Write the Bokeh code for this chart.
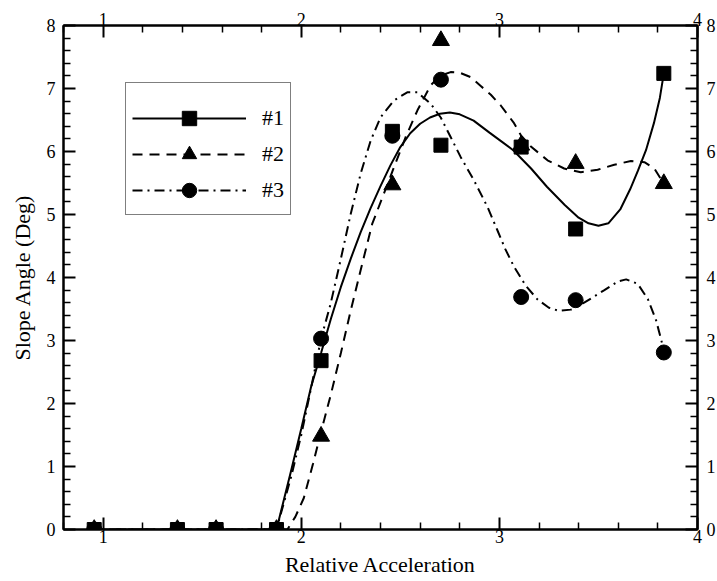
import numpy as np
from bokeh.plotting import figure
from bokeh.models import LinearAxis, FixedTicker, Legend, LegendItem, Range1d
from bokeh.embed import file_html
from bokeh.resources import INLINE

# ---- data ----
accel = [0.955, 1.375, 1.57, 1.875, 2.10, 2.46, 2.705, 3.11, 3.385, 3.83]
slope1 = [0, 0, 0, 0, 2.68, 6.32, 6.10, 6.07, 4.77, 7.24]
slope2 = [0, 0, 0, 0, 1.48, 5.47, 7.76, 6.10, 5.81, 5.49]
slope3 = [0, 0, 0, 0, 3.03, 6.25, 7.14, 3.69, 3.64, 2.81]

# fitted curves
fit1_x = [0.955, 1.875, 1.95, 2.00, 2.05, 2.10, 2.15, 2.20, 2.25, 2.30, 2.35, 2.40,
          2.45, 2.50, 2.55, 2.60, 2.65, 2.70, 2.75, 2.80, 2.87, 2.95, 3.01, 3.07,
          3.16, 3.24, 3.33, 3.40, 3.45, 3.50, 3.55, 3.61, 3.66, 3.70, 3.74, 3.78,
          3.81, 3.83]
fit1_y = [0, 0, 0.95, 1.60, 2.27, 2.80, 3.35, 3.85, 4.30, 4.72, 5.10, 5.45,
          5.78, 6.07, 6.29, 6.44, 6.54, 6.60, 6.62, 6.59, 6.49, 6.30, 6.16, 6.02,
          5.73, 5.44, 5.15, 4.95, 4.86, 4.82, 4.86, 5.08, 5.40, 5.70, 6.02, 6.45,
          6.85, 7.24]

fit2_x = [0.955, 1.875, 1.93, 1.97, 2.013, 2.06, 2.10, 2.15, 2.20, 2.25, 2.30,
          2.358, 2.417, 2.468, 2.527, 2.586, 2.653, 2.70, 2.754, 2.80, 2.855,
          2.906, 2.957, 3.007, 3.074, 3.11, 3.159, 3.243, 3.327, 3.411, 3.496,
          3.58, 3.664, 3.732, 3.782, 3.83]
fit2_y = [0, 0, 0.0, 0.2, 0.50, 1.05, 1.55, 2.15, 2.80, 3.48, 4.12,
          4.85, 5.33, 5.75, 6.23, 6.65, 7.05, 7.20, 7.26, 7.25, 7.18,
          7.04, 6.90, 6.73, 6.45, 6.25, 6.08, 5.86, 5.73, 5.67, 5.71,
          5.79, 5.85, 5.83, 5.73, 5.49]

fit3_x = [0.955, 1.875, 1.95, 2.00, 2.05, 2.10, 2.148, 2.198, 2.249, 2.30, 2.35,
          2.40, 2.468, 2.535, 2.586, 2.653, 2.704, 2.754, 2.805, 2.872, 2.94,
          2.99, 3.03, 3.074, 3.133, 3.193, 3.25, 3.30, 3.361, 3.428, 3.53, 3.60,
          3.64, 3.698, 3.749, 3.791, 3.816, 3.833]
fit3_y = [0, 0, 0.85, 1.50, 2.25, 3.03, 3.58, 4.27, 5.00, 5.65, 6.17,
          6.54, 6.81, 6.94, 6.94, 6.76, 6.54, 6.23, 5.91, 5.54, 5.12,
          4.75, 4.45, 4.17, 3.87, 3.65, 3.52, 3.47, 3.49, 3.60, 3.80, 3.94,
          3.97, 3.90, 3.66, 3.32, 3.02, 2.81]

labels = ["#1", "#2", "#3"]
x_major = [1, 2, 3, 4]
y_major = [0, 1, 2, 3, 4, 5, 6, 7, 8]

SERIF = "Liberation Serif"

p = figure(frame_width=634, frame_height=504,
           x_range=Range1d(0.8, 4.0), y_range=Range1d(0, 8),
           output_backend="svg", toolbar_location=None,
           min_border_left=63, min_border_top=25, min_border_right=18,
           min_border_bottom=44)
p.grid.visible = False
p.outline_line_color = "black"
p.outline_line_width = 2
p.background_fill_color = "white"
p.border_fill_color = "white"

x_minor = [round(v, 2) for v in np.arange(0.8, 4.001, 0.2) if abs(v - round(v)) > 1e-6]
y_minor = [round(v, 2) for v in np.arange(0, 8.001, 0.2) if abs(v - round(v)) > 1e-6]

p.add_layout(LinearAxis(), "above")
p.add_layout(LinearAxis(), "right")

for ax in p.xaxis:
    ax.ticker = FixedTicker(ticks=x_major, minor_ticks=x_minor)
for ax in p.yaxis:
    ax.ticker = FixedTicker(ticks=y_major, minor_ticks=y_minor)

for ax in p.xaxis + p.yaxis:
    ax.major_tick_in = 12
    ax.major_tick_out = 0
    ax.minor_tick_in = 7
    ax.minor_tick_out = 0
    ax.axis_line_width = 2
    ax.major_tick_line_width = 2
    ax.minor_tick_line_width = 1.5
    ax.axis_line_color = "black"
    ax.major_tick_line_color = "black"
    ax.minor_tick_line_color = "black"
    ax.major_label_text_font = SERIF
    ax.major_label_text_font_size = "18px"
    ax.major_label_text_color = "black"
    ax.major_label_standoff = 3

p.below[0].axis_label = "Relative Acceleration"
p.left[0].axis_label = "Slope Angle (Deg)"
for ax in (p.below[0], p.left[0]):
    ax.axis_label_text_font = SERIF
    ax.axis_label_text_font_size = "22px"
    ax.axis_label_text_font_style = "normal"
    ax.axis_label_text_color = "black"
    ax.axis_label_standoff = 6
p.left[0].major_label_standoff = 8
p.left[0].axis_label_standoff = 9
p.below[0].major_label_standoff = 0
p.above[0].major_label_standoff = 0
p.right[0].major_label_standoff = 9

LW = 2
l1 = p.line(fit1_x, fit1_y, line_color="black", line_width=LW)
l2 = p.line(fit2_x, fit2_y, line_color="black", line_width=LW, line_dash="10 7")
l3 = p.line(fit3_x, fit3_y, line_color="black", line_width=LW, line_dash="10 5 2 5")

m2 = p.scatter(accel, slope2, marker="triangle", size=17, color="black")
m3 = p.scatter(accel, slope3, marker="circle", size=15, color="black")
m1 = p.scatter(accel, slope1, marker="square", size=14, color="black")

legend = Legend(items=[LegendItem(label=labels[0], renderers=[l1, m1]),
                       LegendItem(label=labels[1], renderers=[l2, m2]),
                       LegendItem(label=labels[2], renderers=[l3, m3])],
                location=(62, 314), title=" ", title_text_font_size="9px",
                title_standoff=1)
legend.label_text_font = SERIF
legend.label_text_font_size = "22px"
legend.label_text_color = "black"
legend.glyph_width = 114
legend.glyph_height = 36
legend.label_height = 36
legend.label_standoff = 16
legend.spacing = -7
legend.padding = 6
legend.margin = 0
legend.border_line_color = "black"
legend.border_line_width = 1
legend.background_fill_alpha = 1
p.add_layout(legend)

open("out.html", "w").write(file_html(p, INLINE))
